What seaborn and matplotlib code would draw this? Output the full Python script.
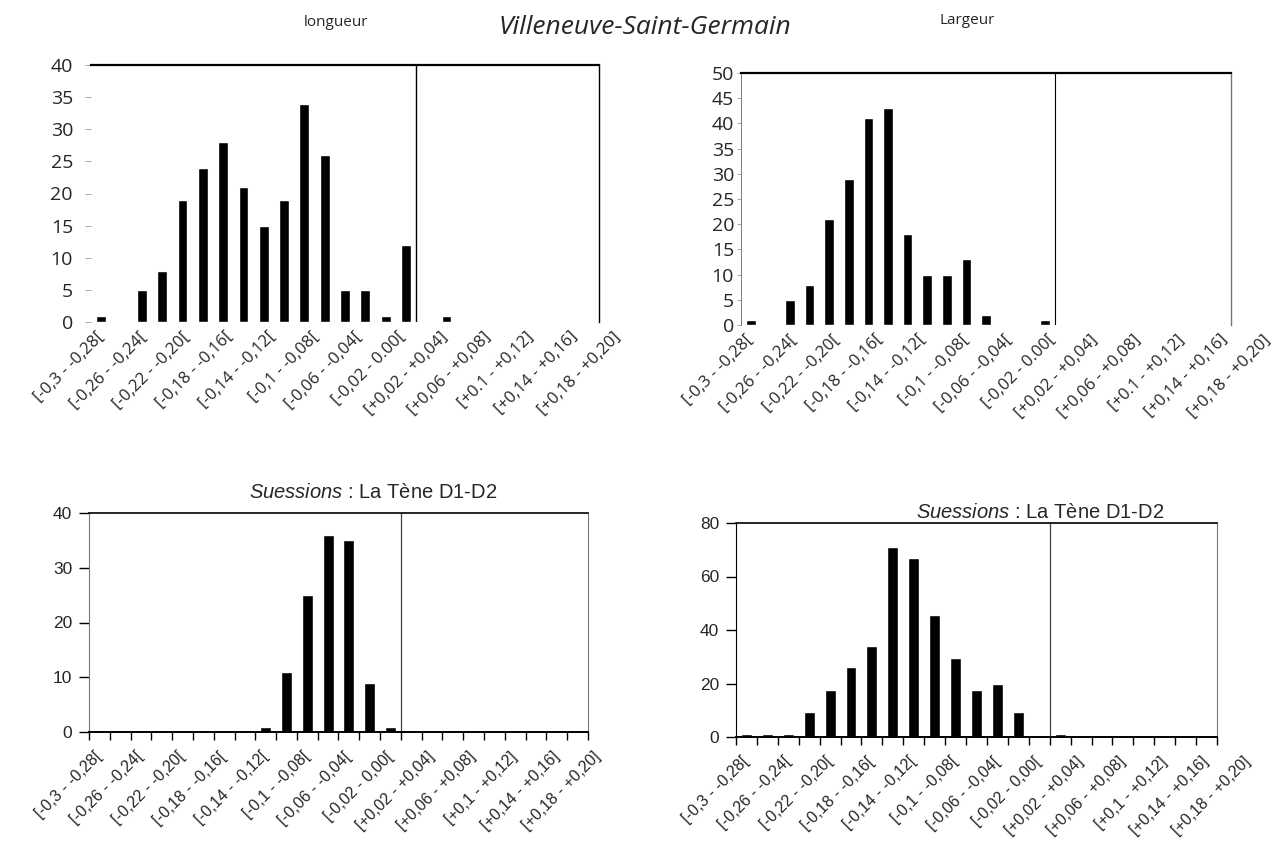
import matplotlib
matplotlib.use('agg')
import matplotlib.pyplot as plt
import matplotlib.transforms as mtransforms
import numpy as np
import pandas as pd
import seaborn as sns

sns.set_style('white')

# counts per 0,02 class
longueur_vsg = [1, 0, 5, 8, 19, 24, 28, 21, 15, 19, 34, 26, 5, 5, 1, 12, 0, 1, 0, 0, 0, 0, 0, 0, 0]
largeur_vsg = [1, 0, 5, 8, 21, 29, 41, 43, 18, 10, 10, 13, 2, 0, 0, 1, 0, 0, 0, 0, 0, 0, 0, 0, 0]
longueur_sue = [0, 0, 0, 0, 0, 0, 0, 0, 1, 11, 25, 36, 35, 9, 1, 0, 0, 0, 0, 0, 0, 0, 0, 0]
largeur_sue = [1, 1, 1, 9.5, 17.5, 26, 34, 71, 67, 45.5, 29.5, 17.5, 20, 9.5, 0, 1, 0, 0, 0, 0, 0, 0, 0]

# class index where the zero line sits
zero_vsg = 16
zero_sue = 15

labels_top = ['[-0,3 - -0,28[', '[-0,26 - -0,24[', '[-0,22 - -0,20[', '[-0,18 - -0,16[',
              '[-0,14 - -0,12[', '[-0,1 - -0,08[', '[-0,06 - -0,04[', '[-0,02 - 0.00[',
              '[+0,02 - +0,04]', '[+0,06 - +0,08]', '[+0.1 - +0,12]', '[+0,14 - +0,16]',
              '[+0,18 - +0,20]']
labels_bottom = ['[-0,3 - -0,28[', '[-0,26 - -0,24[', '[-0,22 - -0,20[', '[-0,18 - -0,16[',
                 '[-0,14 - -0,12[', '[-0,1 - -0,08[', '[-0,06 - -0,04[', '[-0,02 - 0,00[',
                 '[+0,02 - +0,04]', '[+0,06 - +0,08]', '[+0,1 - +0,12]', '[+0,14 - +0,16]',
                 '[+0,18 - +0,20]']

plt.rcParams['mathtext.fontset'] = 'custom'
plt.rcParams['mathtext.it'] = 'Liberation Sans:italic'

W, H = 1272, 866
fig = plt.figure(figsize=(W / 100, H / 100), dpi=100)

top_font = ['Open Sans', 'DejaVu Sans']
bot_font = ['Liberation Sans', 'DejaVu Sans']


def rect(l, r, t, b):
    return [l / W, (H - b) / H, (r - l) / W, (b - t) / H]


def bars(ax, counts, width):
    df = pd.DataFrame({'classe': np.arange(len(counts)), 'n': counts})
    sns.barplot(data=df, x='classe', y='n', color='black', saturation=1,
                width=width, ax=ax, errorbar=None)
    ax.set_xlim(-0.5, len(counts) - 0.5)
    ax.set_xlabel('')
    ax.set_ylabel('')
    ax.set_xticks([])


def class_labels(ax, labels, step, pad, font, size):
    # labels sit every other class, some of them past the end of the axis
    trans = mtransforms.offset_copy(ax.get_xaxis_transform(), fig=fig, y=-pad, units='points')
    for k, lab in enumerate(labels):
        ax.text(k * step, 0, lab, transform=trans, rotation=45, ha='right', va='center',
                rotation_mode='anchor', family=font, fontsize=size, clip_on=False)


# ---- top row (Villeneuve-Saint-Germain)
panels_top = [(longueur_vsg, rect(91, 599, 65, 322), 40, 2.12),
              (largeur_vsg, rect(741, 1231, 73, 325), 50, 2.2)]
for counts, r, ymax, step in panels_top:
    ax = fig.add_axes(r)
    bars(ax, counts, 0.48)
    ax.set_ylim(0, ymax)
    ax.set_yticks(np.arange(0, ymax + 1, 5))
    ax.set_yticklabels([str(v) for v in range(0, ymax + 1, 5)], family=top_font, fontsize=14)
    class_labels(ax, labels_top, step, 9, top_font, 12)
    ax.spines['bottom'].set_visible(False)
    ax.spines['top'].set_linewidth(1.6)
    ax.spines['top'].set_color('black')
    ax.spines['right'].set_linewidth(1.0)
    ax.spines['right'].set_color('black')
    if counts is longueur_vsg:
        ax.tick_params(axis='y', length=4, width=0.6, color='#999999', pad=9, left=True)
        ax.spines['left'].set_visible(False)
        ax.axvline(zero_vsg - 0.5, color='black', lw=1.0)
    else:
        ax.tick_params(axis='y', length=3, width=0.6, color='#999999', pad=2, left=True)
        ax.spines['left'].set_linewidth(0.7)
        ax.spines['left'].set_color('#777777')
        ax.spines['right'].set_color('#777777')
        ax.axvline(zero_vsg - 0.5, color='black', lw=0.8)

fig.text(336 / W, 1 - 22 / H, 'longueur', family=top_font, fontsize=11, ha='center', va='center')
fig.text(645 / W, 1 - 27 / H, 'Villeneuve-Saint-Germain', family=top_font, fontsize=19,
         style='italic', ha='center', va='center')
fig.text(967 / W, 1 - 20 / H, 'Largeur', family=top_font, fontsize=11, ha='center', va='center')

# ---- bottom row (Suessions)
panels_bot = [(longueur_sue, rect(89, 588, 513, 732), 40, 10, 373, 493),
              (largeur_sue, rect(736, 1217, 523, 737), 80, 20, 1040, 512)]
for counts, r, ymax, ystep, tx, ty in panels_bot:
    ax = fig.add_axes(r)
    bars(ax, counts, 0.52)
    n = len(counts)
    ax.set_ylim(0, ymax)
    ax.set_yticks(np.arange(0, ymax + 1, ystep))
    ax.set_yticklabels([str(v) for v in range(0, ymax + 1, ystep)], family=bot_font, fontsize=12.5)
    class_labels(ax, labels_bottom, 2, 16, bot_font, 11.5)
    ax.set_xticks(np.arange(n + 1) - 0.5, minor=True)
    ax.set_xlim(-0.5, n - 0.5)
    ax.tick_params(axis='x', which='minor', length=6, width=1.0, color='black', bottom=True)
    ax.tick_params(axis='y', length=7, width=1.0, color='black', pad=5, left=True)
    ax.spines['bottom'].set_linewidth(1.4)
    ax.spines['bottom'].set_color('black')
    ax.spines['top'].set_linewidth(1.2)
    ax.spines['top'].set_color('black')
    ax.spines['right'].set_linewidth(0.8)
    ax.spines['right'].set_color('#777777')
    ax.spines['left'].set_linewidth(0.8)
    ax.spines['left'].set_color('#777777' if counts is longueur_sue else 'black')
    ax.axvline(zero_sue - 0.5, color='#444444', lw=0.9)
    fig.text(tx / W, 1 - ty / H, r'$\it{Suessions}$ : La Tène D1-D2', family=bot_font,
             fontsize=14.5, ha='center', va='center')

fig.savefig('out.png', dpi=100, facecolor='white')
